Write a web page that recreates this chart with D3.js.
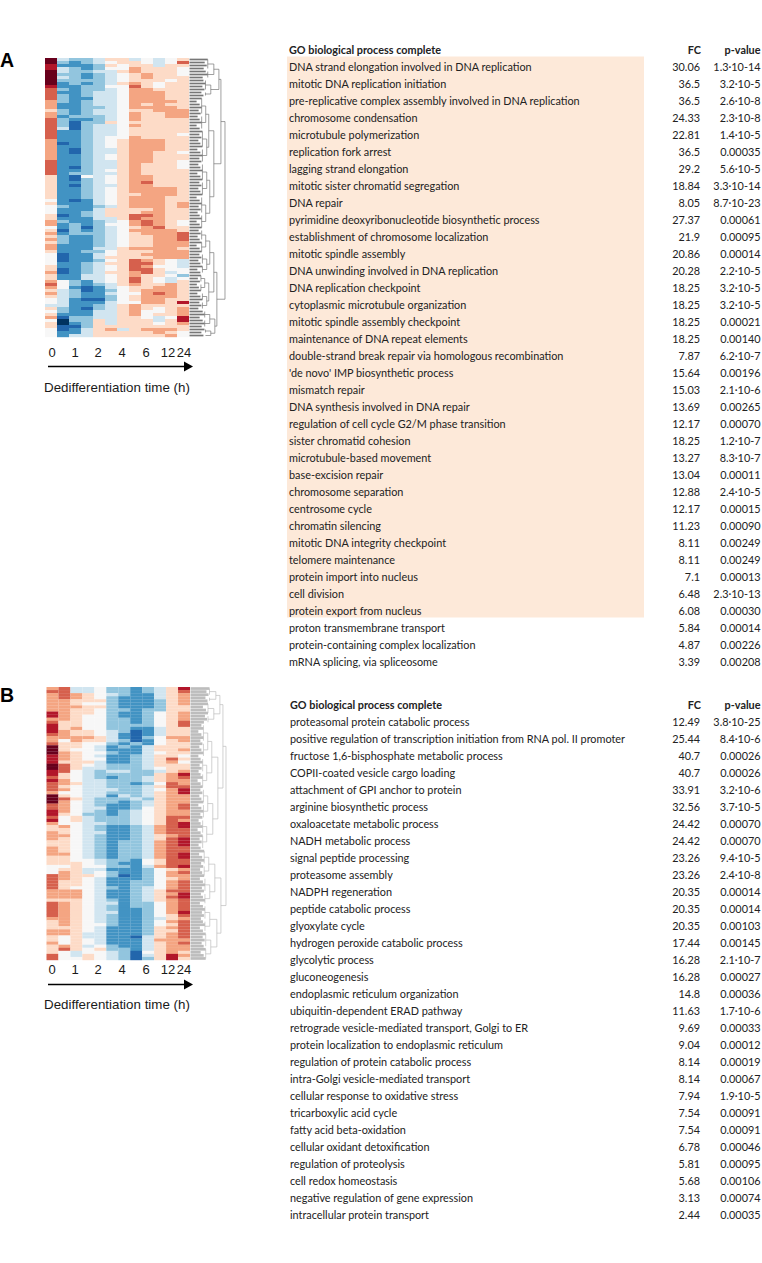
<!DOCTYPE html>
<html><head><meta charset="utf-8">
<script src="https://cdn.jsdelivr.net/npm/d3@7"></script>
<style>html,body{margin:0;padding:0;background:#fff}svg{display:block}</style>
</head><body><svg id="c" width="762" height="1263"><defs><filter id="soft" x="-2%" y="-2%" width="104%" height="104%"><feGaussianBlur stdDeviation="0.4"/></filter></defs></svg>
<script>
const times=["0","1","2","4","6","12","24"];
const xTitle="Dedifferentiation time (h)";
const tableHead=["GO biological process complete","FC","p-value"];
const termsA=["DNA strand elongation involved in DNA replication","mitotic DNA replication initiation","pre-replicative complex assembly involved in DNA replication","chromosome condensation","microtubule polymerization","replication fork arrest","lagging strand elongation","mitotic sister chromatid segregation","DNA repair","pyrimidine deoxyribonucleotide biosynthetic process","establishment of chromosome localization","mitotic spindle assembly","DNA unwinding involved in DNA replication","DNA replication checkpoint","cytoplasmic microtubule organization","mitotic spindle assembly checkpoint","maintenance of DNA repeat elements","double-strand break repair via homologous recombination","'de novo' IMP biosynthetic process","mismatch repair","DNA synthesis involved in DNA repair","regulation of cell cycle G2/M phase transition","sister chromatid cohesion","microtubule-based movement","base-excision repair","chromosome separation","centrosome cycle","chromatin silencing","mitotic DNA integrity checkpoint","telomere maintenance","protein import into nucleus","cell division","protein export from nucleus","proton transmembrane transport","protein-containing complex localization","mRNA splicing, via spliceosome"];
const fcA=["30.06","36.5","36.5","24.33","22.81","36.5","29.2","18.84","8.05","27.37","21.9","20.86","20.28","18.25","18.25","18.25","18.25","7.87","15.64","15.03","13.69","12.17","18.25","13.27","13.04","12.88","12.17","11.23","8.11","8.11","7.1","6.48","6.08","5.84","4.87","3.39"];
const pA=["1.3·10-14","3.2·10-5","2.6·10-8","2.3·10-8","1.4·10-5","0.00035","5.6·10-5","3.3·10-14","8.7·10-23","0.00061","0.00095","0.00014","2.2·10-5","3.2·10-5","3.2·10-5","0.00021","0.00140","6.2·10-7","0.00196","2.1·10-6","0.00265","0.00070","1.2·10-7","8.3·10-7","0.00011","2.4·10-5","0.00015","0.00090","0.00249","0.00249","0.00013","2.3·10-13","0.00030","0.00014","0.00226","0.00208"];
const highlightedA=33;
const termsB=["proteasomal protein catabolic process","positive regulation of transcription initiation from RNA pol. II promoter","fructose 1,6-bisphosphate metabolic process","COPII-coated vesicle cargo loading","attachment of GPI anchor to protein","arginine biosynthetic process","oxaloacetate metabolic process","NADH metabolic process","signal peptide processing","proteasome assembly","NADPH regeneration","peptide catabolic process","glyoxylate cycle","hydrogen peroxide catabolic process","glycolytic process","gluconeogenesis","endoplasmic reticulum organization","ubiquitin-dependent ERAD pathway","retrograde vesicle-mediated transport, Golgi to ER","protein localization to endoplasmic reticulum","regulation of protein catabolic process","intra-Golgi vesicle-mediated transport","cellular response to oxidative stress","tricarboxylic acid cycle","fatty acid beta-oxidation","cellular oxidant detoxification","regulation of proteolysis","cell redox homeostasis","negative regulation of gene expression","intracellular protein transport"];
const fcB=["12.49","25.44","40.7","40.7","33.91","32.56","24.42","24.42","23.26","23.26","20.35","20.35","20.35","17.44","16.28","16.28","14.8","11.63","9.69","9.04","8.14","8.14","7.94","7.54","7.54","6.78","5.81","5.68","3.13","2.44"];
const pB=["3.8·10-25","8.4·10-6","0.00026","0.00026","3.2·10-6","3.7·10-5","0.00070","0.00070","9.4·10-5","2.4·10-8","0.00014","0.00014","0.00103","0.00145","2.1·10-7","0.00027","0.00036","1.7·10-6","0.00033","0.00012","0.00019","0.00067","1.9·10-5","0.00091","0.00091","0.00046","0.00095","0.00106","0.00074","0.00035"];
// one letter per time column: a = strongest blue ... f = neutral ... k = strongest red
const heatA=["keddeggefefg","kdcdefggfefi","jcccdgfggegg","jedcdffhgggf","keddeeghgggf","kddcdefghggf","kedcdefghggg","kddddefgggfg","kcdcdeghgfgg","jccddffigfgg","idcddefhhggg","iccdeefhhhgg","idcdeefhhhgg","idcceefhhhgg","hdcdeefhhhhg","hccdeefhghgg","hccddefhhhhg","gdcdeefgghhh","hdcdeefhgghh","hcdddefhgghh","idccdefhgggg","idbddgfggggg","idbdeefhgggg","iebdeefggggg","iccdeefggggg","iccdeefggggf","iccdeffhgggg","hccdefghhhgg","hbcdefghhhgg","hccdefghhhgg","hcbdeeghhhgg","hcbdeeghhggf","hccdefghhggg","hccdefghhggg","iccdeeghhggf","iccdeeghgggf","icbdeeghgggf","iccdefghgggg","icddeeghgggg","gcbfefghhggg","gcbdefghhggg","gccdefghiggg","gcbdeeghhggg","gccdefghhhhg","gccdefghhhhg","gccdefgghhhg","gccdefghhhgg","fcbcefghhhgg","gcccefghhhgh","fdccdeghhhgh","fcccegggghgg","fccdeggghhgg","gbcdeggiihgg","gccceegihhgg","hdccdefhihgf","hcdcdffhihgf","fcdbdefghigg","gbdcdefhhhhg","hcdddefghhhi","gdccdefgghhi","hdccdefgghhi","gdccdefgghhh","hcccdefgghhh","hccceeghhhhg","gccddfggghhh","fbccefgghhhh","fbccegggghhh","fbccdfgihgfe","fccdeggiigfe","gccdefgihffe","gbcdefgiigff","hbcdegghigef","gcceefghggfd","gcceefgigfef","hfdcefgigfeg","ifdcdeghgghg","hfcbcefgghhg","gedbcdfghhhg","hedcceffhihg","gedccdfghhhg","fecbbdfghhgg","feccceffhhgj","eeccdeghgggg","gdcbdeghgfgh","fdcceeghffgh","gccceeghfggh","hbddeeggfefj","faddgegggegj","gacdgegggfgh","gbbdgggggggg","fbcegheghhhg","fcceggggghgf","fceegggggghf"];
const heatB=["hieefddcdegj","iieefddcdegi","hihgfedccegh","hihgfdcccegh","hhgggdcccdgh","hhgffdcccdgh","hhhggdcccdgg","hhggfddcddgg","jhggfdccdfgh","jhgffdccdfgh","hhgffddcdfgh","iggffddcdfgi","jggffddddfgi","jghffddccegg","jhggfedbcegg","ihggfecbcegg","hhhhgecbdfhh","hfhggedbcfgh","iggffdcdcfgg","kggfecdceggg","kgffeccceggh","khgffdccefgg","jhgfeccdeggf","jhgffccdegig","jgggeccdeghf","kigfedddeggg","kigeedddefgg","jifedeeddegh","jgfedddddghj","igfedcddeghi","jhfeedddeghh","ihgeeddcdfih","igfeedddegii","ihfeeeddefhj","hffeedddeghj","kgfeecedeghh","kigedddedghh","khfeddcdeghh","ihfedccdeghi","ihfeeccdfghi","jhfedcdefghh","jgfddcdefghh","ifgedddefgii","jfgedddefgih","hffeeddefgij","ghfedccdehij","ggfedccdehii","hgfeeccdehii","hhfedccdeghi","hgfedccdegij","ggfedcddehij","ggfedcddehij","hgfedcddehii","hgfedcddehii","hhfedcddehij","ggfedcddehij","ggffeddcfgii","gggfedccfgii","ffgffddcehij","fggeecccdfgh","fhgefdccdfhi","ihggfdbcdfhh","ihgfecccdfgh","iggfeccddfhi","iggfeccddfhi","igffedcdefhi","hhhfeccdegii","hhhfeccdeghj","hhhfeccdegij","gggfedcdeghi","ihgfeecddfhi","ihgfedcddfhi","ihgfedccdfhi","ihgfeeccdfhj","ihgfedccdfgi","hhgfedccdegh","ghgfedccdfhi","ghgffdccdfgi","gggfecccdghi","hhgfecccdggi","hhgeecccdghi","gfgeeccbeghi","gfgfecccehhh","hfgfeccceghi","ghgefdcceghh","gigfgddceghh","gfeffedbfghg","ifegfedbegjh","iffgfedbdgjg"];
// dendrogram merges: [merge height, left, right]; a number is a group of that many rows
const treeA=[35,[31,[29,[24,4,3],[21,4,2]],[24,[19,[16,6,5],[17,6,5]],[20,[17,6,5],[16,6,5]]]],[27,[24,[20,[16,4,4],[17,4,3]],[19,[15,3,3],[17,3,3]]],[25,[20,3,3],[21,2,1]]]];
const treeB=[35,[32,[29,[25,3,2],[23,4,3]],[27,[21,[17,6,5],[16,5,5]],[22,[17,5,5],[16,5,5]]]],[30,[24,[18,5,4],[19,5,4]],[26,[19,5,4],[20,5,4]]]];
// how far each leaf stops short of its merge, in dendrogram height units, cycled over the rows of a group
const leafTrim=[0,3,1,4,2,0,5,2];

const levels=[...d3.schemeRdBu[11]].reverse();
const letter=d3.scaleOrdinal("abcdefghijk".split(""),levels);
const svg=d3.select("#c");
const SANS="'Liberation Sans',Arial,sans-serif", TBL="Lato,'Open Sans',sans-serif";

function panel(cfg){
  const g=svg.append("g");
  const cols=d3.range(12);
  const x=d3.scaleBand(cols,[cfg.hx0,cfg.hx1]);
  const y=d3.scaleBand(d3.range(cfg.heat.length),[cfg.hy0,cfg.hy1]);
  const hg=g.append("g").attr("filter","url(#soft)");
  cfg.heat.forEach((row,i)=>{
    hg.append("g").selectAll("rect").data(row.split("")).join("rect")
      .attr("x",(d,j)=>x(j)).attr("y",y(i)).attr("width",x.bandwidth()).attr("height",y.bandwidth()+0.2)
      .attr("fill",d=>letter(d));
  });
  // dendrogram
  const dx=d3.scaleLinear([0,36],[cfg.hx1+0.5,cfg.hx1+37]);
  const dg=g.append("g").attr("stroke",cfg.dendro).attr("fill","none").attr("stroke-width",0.7);
  let next=0;
  const seg=(a,b,c,e)=>dg.append("line").attr("x1",a).attr("y1",b).attr("x2",c).attr("y2",e);
  const mid=i=>y(i)+y.bandwidth()/2;
  function walk(n,parentH){
    if(typeof n==="number"){
      const h=parentH*0.75, ys=[];
      for(let k=0;k<n;k++){const i=next++,yy=mid(i);ys.push(yy);
        dg.append("line").attr("x1",dx(0)).attr("y1",yy).attr("x2",dx(h-leafTrim[i%leafTrim.length])).attr("y2",yy).attr("stroke-width",cfg.leafW);}
      const m=d3.mean(ys);
      seg(dx(h),ys[0],dx(h),ys[ys.length-1]);
      seg(dx(h),m,dx(parentH),m);
      return m;
    }
    const [h,a,b]=n;
    const ya=walk(a,h), yb=walk(b,h);
    seg(dx(h),ya,dx(h),yb);
    const m=(ya+yb)/2;
    if(parentH!=null) seg(dx(h),m,dx(parentH),m);
    return m;
  }
  walk(cfg.tree,null);
  // time labels
  const tx=d3.scaleOrdinal(times,[52,75,98,122,146,168,184]);
  g.append("g").selectAll("text").data(times).join("text")
    .attr("x",d=>tx(d)).attr("y",cfg.tickY).attr("text-anchor","middle")
    .attr("font-family",SANS).attr("font-size",13).attr("fill","#1a1a1a").text(d=>d);
  g.append("line").attr("x1",48).attr("x2",185).attr("y1",cfg.arrowY).attr("y2",cfg.arrowY).attr("stroke","#000").attr("stroke-width",1.6);
  g.append("path").attr("d",d3.line()([[184,cfg.arrowY-5],[193,cfg.arrowY],[184,cfg.arrowY+5]])+"Z").attr("fill","#000");
  g.append("text").attr("x",44).attr("y",cfg.titleY).attr("font-family",SANS).attr("font-size",13.35).attr("fill","#1a1a1a").text(xTitle);
  g.append("text").attr("x",0).attr("y",cfg.letterY).attr("font-family",SANS).attr("font-weight",700).attr("font-size",19.5).attr("fill","#000").text(cfg.letter);
  // table
  const ty=d3.scaleLinear([0,1],[cfg.rowY0,cfg.rowY0+17]);
  const t=g.append("g").attr("font-family",TBL).attr("font-size",10.85).attr("fill","#222");
  if(cfg.hl){t.append("rect").attr("x",287).attr("y",ty(0)-9.5).attr("width",357).attr("height",ty(cfg.hl)-ty(0)).attr("fill","#fde9d9");}
  const head=t.append("g").attr("font-weight",700);
  head.append("text").attr("x",cfg.tx).attr("y",ty(-1)+0.6).attr("dy","0.36em").text(tableHead[0]);
  head.append("text").attr("x",701).attr("y",ty(-1)+0.6).attr("dy","0.36em").attr("text-anchor","end").text(tableHead[1]);
  head.append("text").attr("x",760.5).attr("y",ty(-1)+0.6).attr("dy","0.36em").attr("text-anchor","end").text(tableHead[2]);
  const rows=t.append("g").selectAll("g").data(cfg.terms).join("g").attr("transform",(d,i)=>`translate(0,${ty(i)+0.6})`);
  rows.append("text").attr("x",cfg.tx).attr("dy","0.36em").text(d=>d);
  rows.append("text").attr("x",700).attr("dy","0.36em").attr("text-anchor","end").text((d,i)=>cfg.fc[i]);
  rows.append("text").attr("x",760.5).attr("dy","0.36em").attr("text-anchor","end").text((d,i)=>cfg.p[i]);
}
panel({heat:heatA,tree:treeA,dendro:"#777",leafW:1.7,hx0:45,hx1:189,hy0:58,hy1:337,tickY:357,arrowY:366.5,titleY:392,letter:"A",letterY:67,terms:termsA,fc:fcA,p:pA,rowY0:66,tx:289,hl:highlightedA});
panel({heat:heatB,tree:treeB,dendro:"#bdbdbd",leafW:2.7,hx0:46.5,hx1:190,hy0:687,hy1:960,tickY:974,arrowY:984.5,titleY:1009,letter:"B",letterY:702,terms:termsB,fc:fcB,p:pB,rowY0:721,tx:290});
</script></body></html>
